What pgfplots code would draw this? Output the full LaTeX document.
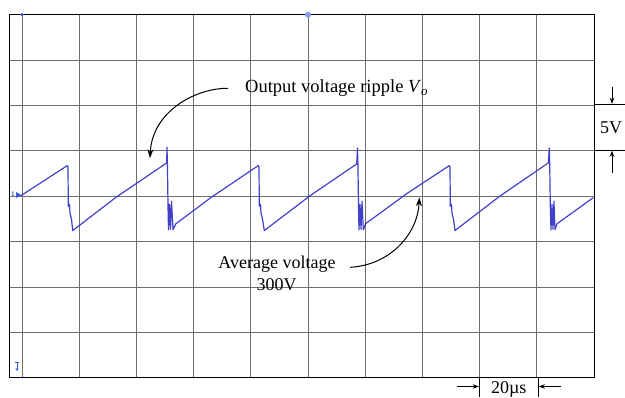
\documentclass[border=0pt]{standalone}
\usepackage{pgfplots}
\pgfplotsset{compat=1.18}
\usepackage{fontspec}
\setmainfont{Liberation Serif}
\usetikzlibrary{arrows.meta}
\definecolor{trace}{RGB}{65,65,205}
\definecolor{gridc}{RGB}{110,110,110}
\definecolor{scopemk}{RGB}{50,90,220}
\begin{document}
\begin{tikzpicture}
\useasboundingbox (0pt,0pt) rectangle (625pt,397pt);
\begin{axis}[
  at={(10pt,19.3pt)}, anchor=south west,
  scale only axis, width=584pt, height=363pt,
  xmin=-4.2, xmax=200, ymin=280, ymax=320,
  xtick={0,20,...,200}, ytick={280,285,...,320},
  xticklabels={}, yticklabels={},
  major tick length=0pt,
  grid=major,
  major grid style={draw=gridc, line width=0.9pt},
  axis line style={black, line width=1pt},
  clip=false,
]
\pgfplotsinvokeforeach{0,4,...,200}{\draw[gridc, line width=0.7pt] (axis cs:#1,300) ++(0,-2pt) -- ++(0,4pt);}
\pgfplotsinvokeforeach{281,282,...,319}{\draw[gridc, line width=0.7pt] (axis cs:100,#1) ++(-2pt,0) -- ++(4pt,0);}
\addplot[trace, line width=1.2pt, line join=round] coordinates {
(-0.70,300.00) (15.84,303.38) (16.08,303.19) (16.19,298.90) (16.61,299.12) (16.78,298.13) (17.31,297.47) (17.73,296.22)
(32.87,299.89) (50.59,303.67) (50.70,305.40) (50.84,303.63) (51.05,298.90) (51.22,296.31) (51.57,299.12) (51.92,296.37) (52.27,299.45) (52.80,296.31) (53.74,296.95)
(66.43,299.94) (82.62,303.38) (82.87,303.19) (82.97,298.90) (83.39,299.12) (83.57,298.13) (84.09,297.47) (84.72,296.22)
(100.70,300.06) (117.03,303.56) (117.31,305.32) (117.45,303.63) (117.66,298.90) (117.83,296.31) (118.18,299.12) (118.53,296.37) (118.88,299.45) (119.34,296.31) (120.11,296.97)
(134.62,300.31) (149.41,303.38) (149.65,303.19) (149.76,298.90) (150.18,299.12) (150.35,298.13) (150.88,297.47) (151.40,296.22)
(167.13,300.03) (184.02,303.67) (184.37,305.32) (184.51,303.63) (184.72,298.90) (184.96,296.31) (185.31,299.12) (185.66,296.37) (186.01,299.45) (186.36,296.31) (187.06,296.97)
(199.76,299.85)
};
\end{axis}
% annotations (pixel-based coordinates)
\node[anchor=base west, font=\fontsize{18.5}{20}\selectfont, inner sep=0pt] at (245pt,304.3pt) {Output voltage ripple \textit{V}\textsubscript{\textit{o}}};
\draw[line width=1pt, -{Stealth[length=9pt,width=6pt]}] (228pt,308.7pt) .. controls (195pt,309pt) and (152pt,285pt) .. (150pt,238.7pt);
\node[anchor=base, font=\fontsize{18}{20}\selectfont, inner sep=0pt] at (277pt,128pt) {Average voltage};
\node[anchor=base, font=\fontsize{18}{20}\selectfont, inner sep=0pt] at (276.5pt,106pt) {300V};
\draw[line width=1pt, -{Stealth[length=9pt,width=6pt]}] (350pt,129.7pt) .. controls (392pt,132pt) and (418pt,165pt) .. (419.3pt,199.7pt);
% 5V scale
\draw[line width=1pt] (594pt,292.7pt) -- (625pt,292.7pt);
\draw[line width=1pt] (594pt,246.7pt) -- (625pt,246.7pt);
\node[font=\fontsize{18}{20}\selectfont, inner sep=0pt] at (611pt,269.7pt) {5V};
\draw[line width=0.9pt, -{Stealth[length=6pt,width=4.5pt]}] (612pt,310.3pt) -- (612pt,293.2pt);
\draw[line width=0.9pt, -{Stealth[length=6pt,width=4.5pt]}] (612pt,224pt) -- (612pt,246.2pt);
% 20us scale
\draw[line width=1pt] (479.3pt,19.3pt) -- (479.3pt,0pt);
\draw[line width=1pt] (538.3pt,19.3pt) -- (538.3pt,0pt);
\draw[line width=0.9pt, -{Stealth[length=6pt,width=4.5pt]}] (456.7pt,10.5pt) -- (478.8pt,10.5pt);
\draw[line width=0.9pt, -{Stealth[length=6pt,width=4.5pt]}] (561pt,10.5pt) -- (538.8pt,10.5pt);
\node[anchor=base, font=\fontsize{18}{20}\selectfont, inner sep=0pt] at (508.8pt,3pt) {20µs};
% scope markers
\node[text=scopemk, font=\fontsize{7}{7}\selectfont\bfseries, inner sep=0pt] at (13pt,203pt) {1};
\fill[scopemk] (16pt,199pt) -- (21pt,202pt) -- (16pt,205pt) -- cycle;
\draw[scopemk, line width=0.8pt] (15pt,35pt) -- (19pt,35pt);
\draw[scopemk, line width=0.8pt, -{Stealth[length=3pt,width=3pt]}] (17pt,35pt) -- (17pt,26pt);
\fill[scopemk!60] (308pt,382.3pt) circle (3pt);
\fill[scopemk] (22pt,382.3pt) circle (1.8pt);
\end{tikzpicture}
\end{document}
